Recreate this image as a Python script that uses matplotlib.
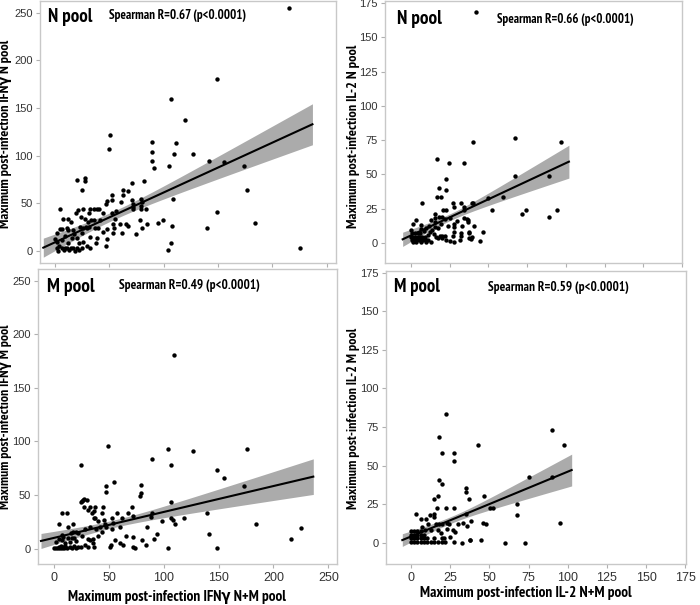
import numpy as np
import matplotlib
matplotlib.use('Agg')
import matplotlib.pyplot as plt
from matplotlib import font_manager

W, H = 700, 605

# ---------------- data ----------------
# Panel A: IFNg N pool vs IFNg N+M pool
a_x = [215, 149.5, 106.8, 119.7, 50.6, 50, 89.6, 89.6, 89.6, 91, 111, 109.5, 126.8, 105, 142, 156,
       174.3, 176.5, 109, 149.5, 139.7, 184, 225.6, 107.4, 99.8, 94.5, 106.5, 104.4, 20, 27.6, 27.6,
       24.6, 4.6, 7.7, 4.6, 6.1, 10.7, 2.1, 0, 1.5, 4, 2.1, 6.1, 9.2, 10.7, 14.4, 16.9, 20.6, 24.6,
       12.3, 15.3, 17.5, 20, 22.1, 24.6, 26.1, 28.5, 29.8, 31.6, 32.2, 32.2, 32.8, 31.6, 32.2, 36.2,
       40.8, 35.9, 36.8, 39, 37.4, 39.9, 41.4, 44.5, 47, 48.2, 47.6, 47, 52.2, 52.2, 52.2, 53.7,
       54.3, 55.2, 53.7, 60.5, 62.3, 59.9, 62, 65.4, 67.5, 71.2, 71.2, 71.5, 71.5, 72.1, 74.6, 78.3,
       78.9, 78.9, 79.8, 79.2, 82, 79.8, 83.8, 84.4, 19.3, 21.5, 25.5, 14.4, 12.3, 12.3, 16.3, 23.9,
       27.6, 30.1, 23, 62.3, 67, 38.2, 3, 8, 13, 18, 22, 47.8, 56, 44, 6, 9, 26, 29]
a_y = [255, 180, 159.5, 137.8, 122, 107, 114.7, 104, 94.4, 86.7, 113.7, 101.8, 101.8, 89.5, 94.4, 93,
       89.5, 64, 54.2, 41.3, 23.8, 29, 2.8, 26.2, 32.5, 29, 8, 1, 74.5, 76.2, 73.8,
       64, 43.7, 33.6, 23, 23, 24.5, 18.5, 12.2, 9.8, 5.2, 2.8, 2.8, 2.8, 2.8, 2.8, 2.8, 2.8, 2.8,
       8.7, 13.3, 17.8, 13.3, 8.7, 18.5, 23.8, 25.5, 23.8, 25.5, 15, 2.8, 32.5, 39.5, 43.7, 43.7,
       43.7, 32.5, 23.8, 13.3, 8, 23.8, 32.5, 39.5, 49, 22.7, 12.6, 5.2, 53.5, 58.8, 39.5, 28,
       23.8, 33.6, 18.5, 51.8, 58.8, 28, 18.5, 28.3, 26.2, 71.7, 53.5, 49.3, 45.8, 43.7, 17.5, 32.5,
       47.2, 43.7, 51.8, 54.2, 73.8, 23.8, 44, 28, 40.2, 43, 43.7, 30.8, 33.2, 22, 22, 36,
       33.6, 30.8, 25.5, 63.7, 63.3, 43.7, 0.5, 1, 1, 0.5, 1.5, 52, 42, 20, 12, 16, 9, 5]

# Panel B: IL-2 N pool vs IL-2 N+M pool
b_x = [42.1, 40, 67.1, 97, 17.1, 24.6, 34.6, 67.1, 89.3, 22.4, 18.2, 22.4, 16.9, 19.7, 7.3, 49.6,
       59.6, 52.1, 72, 74.6, 89.3, 94.4, 41, 46.4, 44.7, 34.6, 36.8, 37.8, 38.5, 32.5, 34.6, 27.1,
       27.6, 34.6, 40, 39.3, 20.7, 22.6, 15.4, 18.2, 15.4, 12.8, 15.4, 20.1, 21.8, 36.2, 37, 27.6,
       33.2, 27.6, 27.6, 32.5, 37.2, 32.5, 20.1, 21.8, 22.9, 32, 37.2, 39.3, 27.1, 0, 1.5, 3.2, 6.8,
       10, 6.3, 0.9, 2.6, 4.3, 6, 0, 0.9, 2.6, 4.3, 5.8, 7.3, 9, 0.5, 2, 3.5, 5, 6.5, 8, 9.5, 11,
       1.5, 3.6, 6.8, 10, 13.2, 12.2, 13.7, 15, 16.5, 17.5, 18.6, 20.3, 15.4, 17.5, 19.7, 25, 28,
       24, 11, 8.5, 12, 25, 30]
b_y = [168.5, 73.8, 76.2, 73.8, 61.1, 58.4, 58.4, 48.7, 48.7, 46.5, 39.7, 38.5, 33.6, 33.6, 28.7, 32.4,
       33.6, 23.6, 21.2, 23.6, 18.5, 23.6, 12.2, 8, 1.5, 18.3, 16.6, 7.5, 2.7, 28.7, 26.3, 28.7,
       26.3, 23.9, 28.7, 28.8, 23.9, 23.9, 21, 19, 17.8, 16.6, 15.4, 19, 17.3, 17, 15.4, 13.6,
       12.2, 11.8, 7.9, 7.4, 7.4, 4.6, 4.6, 4.6, 2.2, 2.2, 3.4, 3.9, 5.1, 9.3, 13.6, 16.6, 13,
       10.7, 10, 6.9, 6.9, 6.9, 6.9, 4.4, 4.4, 4.4, 4.4, 4.4, 4.4, 4.4, 2, 2, 2, 2, 2, 2, 2, 2,
       0.8, 0.8, 0.8, 0.8, 0.8, 8.2, 9.3, 6.4, 4.4, 3.2, 5.1, 3.2, 11.7, 10.4, 14, 1, 0.5,
       12, 6, 8.5, 12.5, 18, 16]

# Panel C: IFNg M pool vs IFNg N+M pool
c_x = [108.9, 49, 24.3, 89.1, 103.7, 126.2, 175.8, 106.4, 148.7, 155.1, 173.4, 54.4, 47.1, 47.1, 79.1,
       79.1, 78.2, 24.9, 26.5, 106.4, 89.1, 139, 183.7, 225, 216, 148.7, 103.4, 141.4, 118.6, 106.4,
       108.6, 110.1, 98.5, 94, 90.6, 83.6, 79.7, 72.1, 73.6, 71.2, 71.5, 71.5, 50.8, 51.7, 55, 59.9,
       63, 61.4, 66.9, 44.1, 43.2, 45.6, 41.7, 43.2, 52.3, 53.8, 52.3, 57.5, 31, 32.5, 36.5, 34.1,
       29.5, 31, 32.5, 35.6, 31, 36.2, 28, 0, 1.5, 3, 4, 5, 6, 7, 8, 9, 10, 12, 14, 16, 18, 20, 22,
       24, 4.3, 7.3, 11.9, 16.7, 6.7, 8.3, 7.3, 12.2, 15.2, 17.4, 19.5, 22, 12.8, 15.8, 18.3, 27.1,
       24.1, 27.1, 37.1, 36.5, 37.1, 40.2, 46.2, 46.8, 2, 4, 10, 14, 20, 25, 28, 33, 38, 40, 35, 60,
       65, 85, 88]
c_y = [181, 96.1, 78.4, 83.6, 93.3, 91.1, 93.3, 78.4, 73.4, 65.9, 58.5, 62.5, 58.5, 53.2, 59.1,
       52.2, 49.1, 44.5, 45.4, 43.5, 33, 33, 23, 19, 9, 0.3, 0.3, 13.4, 28.3, 28.3,
       26.7, 22.7, 25.8, 13.4, 9, 3.4, 8.1, 1.9, 0.3, 39.2, 30.5, 11.2, 1.2, 3.4, 8.1, 5,
       3.4, 28.3, 33, 39.2, 33.6, 26.7, 20.5, 15.9, 28.9, 23.6, 18, 33, 36, 39.2, 28.9, 33,
       45.4, 8.7, 8.1, 8.7, 1.2, 1.2, 3.4, 1, 1, 1, 2, 1, 2.5, 1, 2, 1, 2.5, 1, 2, 1, 2.5, 1, 2,
       2, 23, 33.6, 33.6, 23, 12.8, 11.2, 8.1, 20.5, 14.4, 15.9, 15.9, 14.9, 9.6, 9.6, 9.6, 46,
       43.9, 38.6, 38.6, 34.8, 28.3, 26.2, 23.2, 20.5, 6, 9, 5, 6, 7, 12, 18, 20, 18, 12, 5, 20,
       12, 20, 30]

# Panel D: IL-2 M pool vs IL-2 N+M pool
d_x = [22.3, 18.1, 19.8, 27.4, 27.4, 42.5, 90.1, 97.8, 75.5, 90.1, 17.6, 19.8, 17.4, 14.7, 34.9, 34.9,
       37.2, 46.8, 16.8, 22.1, 27.6, 35.1, 50.4, 52.6, 67.4, 67.4, 95.2, 44.5, 37.6, 32.3, 59.9, 72.7,
       46.1, 47.8, 3, 6.4, 9.4, 12.4, 14.9, 14.9, 22.7, 0, 2.1, 4.1, 6.2, 0, 2.1, 4.1, 6.2, 8.3, 0,
       2.1, 4.1, 6.2, 8.3, 10.4, 0, 2.1, 4.1, 6.2, 8.3, 10.4, 12.5, 14.7, 17, 19.5, 22, 27.5, 37.5,
       16, 18, 20, 24, 17, 19, 15, 20, 25, 27, 30, 33, 36, 38, 28, 9, 11, 13, 7, 23, 21]
d_y = [83.2, 68.7, 57.9, 57.9, 52.9, 63.1, 73, 63.1, 42.8, 42.8, 40.6, 38, 30.2, 28.1, 35.2, 33,
       28.1, 30.2, 22.3, 22.7, 22.7, 18.4, 22.3, 22.7, 25.1, 17.7, 12.5, 1.5, 1.7, 0, 0, 0,
       12.5, 11.9, 18.6, 15.3, 15.3, 17.7, 18.4, 16.9, 12.5, 7.8, 7.8, 7.8, 7.8, 5, 5, 5, 5, 5, 2.9,
       2.9, 2.9, 2.9, 2.9, 2.9, 0.3, 0.3, 0.3, 0.3, 0.3, 0.3, 0.3, 0.3, 0.3, 0.3, 0.3, 0.3, 1.5,
       12, 12, 12, 12, 8, 6, 3, 3, 4, 8, 12, 13, 11, 14, 7, 8, 12, 8, 10, 9, 3]

# regression lines (ends) and 95% band half-widths [start, narrowest, end]
a_fit_x, a_fit_y, a_hw = [-10.8, 237], [3.5, 133], [10, 4.5, 21.5]
b_fit_x, b_fit_y, b_hw = [-5.3, 102], [2.5, 59.2], [5.2, 2.5, 12]
c_fit_x, c_fit_y, c_hw = [-12.1, 236.3], [7.2, 67.2], [7, 3.5, 16.6]
d_fit_x, d_fit_y, d_hw = [-5.5, 102.5], [1.7, 47.1], [4.1, 2.2, 10.3]

pool_labels = ["N pool", "N pool", "M pool", "M pool"]
stat_labels = ["Spearman R=0.67 (p<0.0001)", "Spearman R=0.66 (p<0.0001)",
               "Spearman R=0.49 (p<0.0001)", "Spearman R=0.59 (p<0.0001)"]
ylabels = ["Maximum post-infection IFN\u03b3 N pool", "Maximum post-infection IL-2 N pool",
           "Maximum post-infection IFN\u03b3 M pool", "Maximum post-infection IL-2 M pool"]
xlabels = ["Maximum post-infection IFN\u03b3 N+M pool", "Maximum post-infection IL-2 N+M pool"]
ifn_ticks = [0, 50, 100, 150, 200, 250]
il2_ticks = [0, 25, 50, 75, 100, 125, 150, 175]

# ---------------- fonts ----------------
REG_FAM = ['Liberation Sans', 'DejaVu Sans']
plt.rcParams['font.family'] = REG_FAM


def find_condensed_bold():
    """Look for an installed condensed/narrow bold face; return text kwargs or None."""
    cands = []
    for f in font_manager.fontManager.ttflist:
        name = (f.name or '').lower()
        fname = (f.fname or '').lower()
        is_cond = ('narrow' in name or 'condensed' in name or 'condensed' in fname
                   or 'narrow' in fname or str(f.stretch) in ('condensed', 'semi-condensed', 'extra-condensed'))
        w = f.weight if isinstance(f.weight, int) else (700 if 'bold' in str(f.weight) else 400)
        is_bold = w >= 600 or 'bold' in fname
        if is_cond and is_bold and 'italic' not in fname and 'oblique' not in fname:
            cands.append(f)
    cands.sort(key=lambda f: 0 if 'narrow' in (f.name or '').lower() else 1)
    for f in cands:
        kw = dict(family=[f.name, 'DejaVu Sans'], weight=f.weight, stretch=f.stretch)
        try:
            got = font_manager.findfont(font_manager.FontProperties(family=f.name, weight=f.weight,
                                                                    stretch=f.stretch),
                                        fallback_to_default=False)
        except Exception:
            continue
        if got == f.fname:
            return kw
    return None


COND_KW = find_condensed_bold()
STRETCH = 1.0 if COND_KW else 1.1


def bold_kw():
    if COND_KW:
        return dict(COND_KW)
    return dict(family=REG_FAM, weight='bold')


fig = plt.figure(figsize=(W / 100, H / 100), dpi=100)
fig.patch.set_facecolor('white')


def px_axes(l, t, r, b):
    return fig.add_axes([l / W, 1 - b / H, (r - l) / W, (b - t) / H])


fitted = []


def ftext(x, y, s, size, target, rotation=0, ha='left', stretch=STRETCH):
    t = fig.text(x / W, 1 - y / H, s, fontsize=size, rotation=rotation,
                 va='center', ha=ha, color='black', **bold_kw())
    fitted.append((t, size, target * stretch, rotation))
    return t


panels = [
    dict(box=(39.5, 0.5, 336, 263), xlim=(-14.3, 258.7), ylim=(-12.6, 262.9), ticks=ifn_ticks,
         x=a_x, y=a_y, fx=a_fit_x, fy=a_fit_y, hw=a_hw, showx=False),
    dict(box=(385, 0.5, 682, 263), xlim=(-16.7, 173.7), ylim=(-14.8, 176.9), ticks=il2_ticks,
         x=b_x, y=b_y, fx=b_fit_x, fy=b_fit_y, hw=b_hw, showx=False),
    dict(box=(37.7, 269.3, 337.3, 564), xlim=(-15.1, 258.2), ylim=(-14.3, 260.6), ticks=ifn_ticks,
         x=c_x, y=c_y, fx=c_fit_x, fy=c_fit_y, hw=c_hw, showx=True),
    dict(box=(386, 271, 686, 564), xlim=(-15.9, 175.4), ylim=(-13.8, 176.1), ticks=il2_ticks,
         x=d_x, y=d_y, fx=d_fit_x, fy=d_fit_y, hw=d_hw, showx=True),
]

for p in panels:
    ax = px_axes(*p['box'])
    ax.set_xlim(*p['xlim'])
    ax.set_ylim(*p['ylim'])
    ax.set_xticks(p['ticks'])
    ax.set_yticks(p['ticks'])
    for s in ax.spines.values():
        s.set_color('#c8c8c8')
        s.set_linewidth(1.0)
    ax.tick_params(axis='y', direction='out', length=3, width=0.8, color='#b0b0b0',
                   labelcolor='#333333', labelsize=8, pad=2)
    ax.tick_params(axis='x', direction='out', length=3, width=0.8, color='#b0b0b0',
                   labelcolor='#333333', labelsize=9, pad=3)
    if not p['showx']:
        ax.tick_params(axis='x', labelbottom=False)

    # confidence band + fit line
    x0, x1 = p['fx']
    y0, y1 = p['fy']
    xm = float(np.mean(p['x']))
    h_s, h_0, h_e = p['hw']
    xs = np.linspace(x0, x1, 200)
    slope = (y1 - y0) / (x1 - x0)
    ys = y0 + slope * (xs - x0)
    k_l = (h_s ** 2 - h_0 ** 2) / (xm - x0) ** 2
    k_r = (h_e ** 2 - h_0 ** 2) / (x1 - xm) ** 2
    k = np.where(xs < xm, k_l, k_r)
    hw = np.sqrt(h_0 ** 2 + k * (xs - xm) ** 2)
    ax.fill_between(xs, ys - hw, ys + hw, color='#ababab', lw=0, zorder=1)
    ax.plot(xs, ys, color='black', lw=1.5, zorder=3)
    ax.scatter(p['x'], p['y'], s=10, color='black', lw=0, zorder=4)

# panel titles and statistics (target lengths in pixels from the reference)
ftext(48, 17, pool_labels[0], 12, 42, stretch=STRETCH * 1.05)
ftext(109, 16, stat_labels[0], 8, 138)
ftext(396.7, 19, pool_labels[1], 12, 42.3, stretch=STRETCH * 1.05)
ftext(496.7, 19.3, stat_labels[1], 8, 138.3)
ftext(46.7, 286.7, pool_labels[2], 12, 45, stretch=STRETCH * 1.05)
ftext(119, 285, stat_labels[2], 8, 140)
ftext(394.3, 286.7, pool_labels[3], 12, 43.4, stretch=STRETCH * 1.05)
ftext(488.3, 287.7, stat_labels[3], 8, 139.4)

# axis labels
ftext(6, 133.5, ylabels[0], 9, 193, rotation=90, ha='center', stretch=0.98)
ftext(353, 136, ylabels[1], 9, 188, rotation=90, ha='center', stretch=0.98)
ftext(6, 416.5, ylabels[2], 9, 187, rotation=90, ha='center', stretch=0.98)
ftext(353, 418, ylabels[3], 9, 186, rotation=90, ha='center', stretch=0.98)
ftext(177, 597, xlabels[0], 10, 219, ha='center')
ftext(526, 593.3, xlabels[1], 10, 214, ha='center')

# scale every label so its length matches the reference
fig.canvas.draw()
r = fig.canvas.get_renderer()
for t, size, target, rot in fitted:
    bb = t.get_window_extent(renderer=r)
    length = bb.height if rot == 90 else bb.width
    if length > 0:
        t.set_fontsize(size * target / length)

fig.savefig('out.png', dpi=100, facecolor='white')
